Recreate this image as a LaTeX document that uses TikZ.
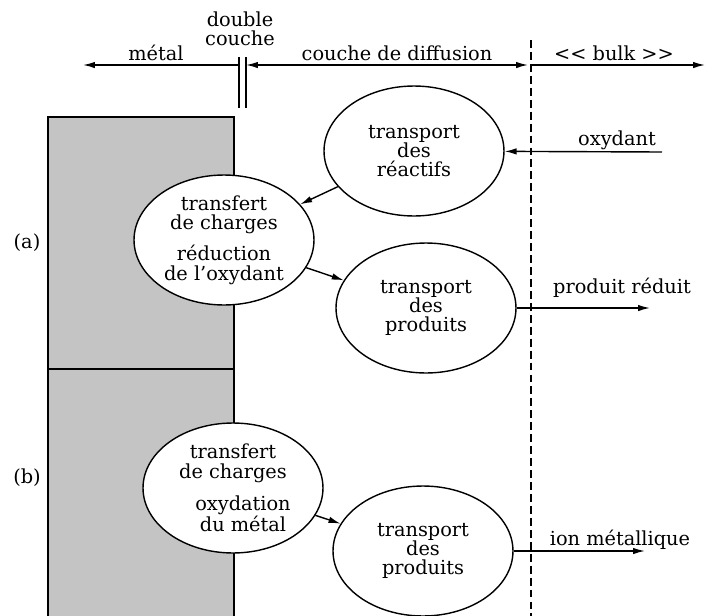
\documentclass[tikz,border=0pt]{standalone}
\usepackage{fontspec}
\setmainfont{DejaVu Serif}
\usepackage{tikz}
\usetikzlibrary{shapes,arrows}
\usetikzlibrary{arrows.meta}

\begin{document}
\begin{tikzpicture}[x=0.02cm, y=-0.02cm,
  every node/.style={font=\fontsize{11}{11}\selectfont},
  process/.style={shape=ellipse, draw, thick, fill=white, minimum width=3.6cm, minimum height=2.6cm, inner sep=0pt, align=center},
  flow/.style={-{Latex[length=2.4mm,width=1.3mm]}, thick},
  twoway/.style={{Latex[length=2.4mm,width=1.3mm]}-{Latex[length=2.4mm,width=1.3mm]}, thick}]
\useasboundingbox (0,0) rectangle (708,616);

% metal
\fill [black!23] (48,117) rectangle (234,616);
\draw [semithick] (48,616) -- (48,117) -- (234,117) -- (234,616);
\draw [semithick] (48,369) -- (234,369);

% zones
\coordinate (mleft) at (83,65);
\coordinate (dcl) at (239,65);
\coordinate (dcr) at (246,65);
\coordinate (lim) at (528,65);
\coordinate (limr) at (531,65);
\coordinate (bright) at (705,65);
\draw [flow] (dcl) -- (mleft);
\draw [twoway] (dcr) -- (lim);
\draw [flow] (limr) -- (bright);
\draw [thick] (239,57) -- (239,108);
\draw [thick] (246,57) -- (246,108);
\draw [semithick, dash pattern=on 4.5pt off 2.3pt] (531,40) -- (531,616);

\node (metal) at (156,53) {métal};
\node (dcouche) at (240,29) [align=center] {double\\couche};
\node (diff) at (397,53) {couche de diffusion};
\node (bulk) at (614,53) {<\kern0pt< bulk >\kern0pt>};

% (a)
\node (ra) at (27,243) {(a)};
\node (reac) at (414,151) [process] {transport\\des\\réactifs};
\node (tca) at (224,240) [process] {transfert\\de charges\\[0.2cm]réduction\\de l'oxydant};
\node (proda) at (426,308) [process] {transport\\des\\produits};
\coordinate (oxin) at (662,152);
\coordinate (redout) at (650,308);
\node (oxyd) at (617,140) {oxydant};
\node (pred) at (622,288) {produit réduit};

\draw [flow] (oxin) -- (reac);
\draw [flow] (reac) -- (tca);
\draw [flow] (tca) -- (proda);
\draw [flow] (proda) -- (redout);

% (b)
\node (rb) at (27,478) {(b)};
\node (tcb) at (233,488) [process] {transfert\\de charges\\[0.25cm]\hspace*{0.4cm}oxydation\\\hspace*{0.4cm}du métal};
\node (prodb) at (423,551) [process] {transport\\des\\produits};
\coordinate (ionout) at (645,551);
\node (ion) at (620,540) {ion métallique};

\draw [flow] (tcb) -- (prodb);
\draw [flow] (prodb) -- (ionout);
\end{tikzpicture}
\end{document}
